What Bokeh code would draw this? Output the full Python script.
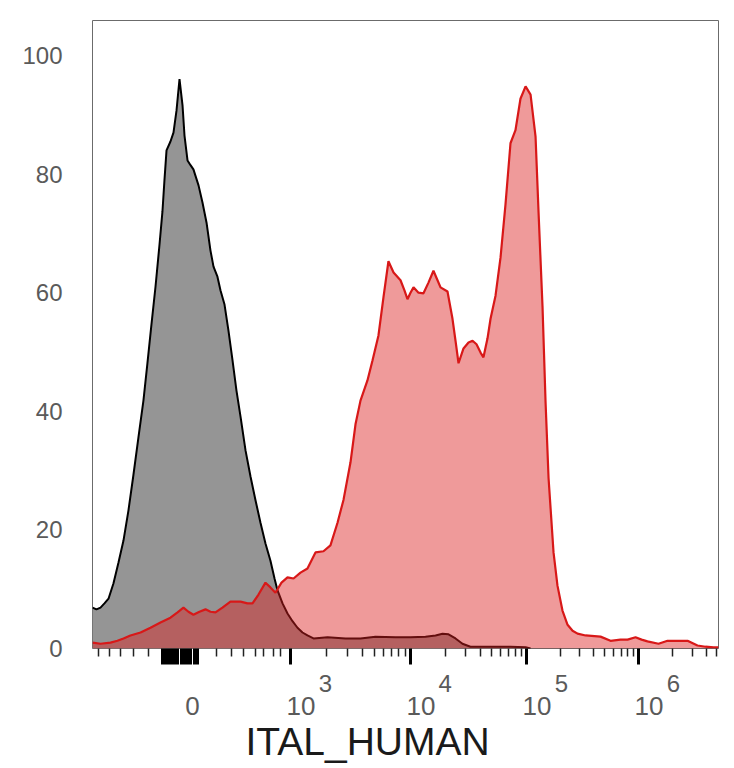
import numpy as np
from bokeh.plotting import figure
from bokeh.models import FixedTicker, LinearAxis, Title, CustomJSTickFormatter, Range1d
from bokeh.embed import file_html
from bokeh.resources import INLINE

# ---------------- data (x in biexponential display units: 0 = zero, ~1 unit per decade) ----------------
grey_x = [-0.767, -0.733, -0.698, -0.664, -0.629, -0.586, -0.543, -0.500, -0.457, -0.414,
          -0.371, -0.328, -0.293, -0.259, -0.224, -0.190, -0.164, -0.147, -0.129, -0.095,
          -0.069, -0.043, -0.017, 0.009, 0.026, 0.052, 0.078, 0.103, 0.147, 0.181,
          0.216, 0.250, 0.276, 0.310, 0.336, 0.371, 0.405, 0.440, 0.474, 0.509,
          0.552, 0.595, 0.638, 0.681, 0.724, 0.767, 0.802, 0.828, 0.871, 0.914,
          0.957, 1.000, 1.043, 1.086, 1.138, 1.259, 1.414, 1.543, 1.672, 1.845,
          1.974, 2.103, 2.190, 2.250, 2.302, 2.362, 2.422, 2.491, 2.664, 2.836,
          2.966, 3.009]
grey_y = [6.9, 6.6, 6.9, 7.6, 8.4, 11.0, 14.5, 18.2, 23.3, 29.3,
          35.6, 41.8, 48.2, 54.6, 61.0, 68.0, 73.7, 78.9, 84.0, 85.5,
          87.0, 90.7, 96.0, 91.6, 86.5, 82.3, 81.5, 80.8, 78.1, 75.2,
          71.8, 67.1, 64.4, 62.7, 60.4, 58.0, 53.6, 48.6, 43.5, 39.1,
          33.4, 29.0, 25.0, 21.2, 17.7, 14.8, 11.8, 9.8, 7.6, 5.9,
          4.6, 3.5, 2.7, 2.2, 1.7, 1.9, 1.7, 1.7, 2.0, 1.9,
          1.9, 2.0, 2.2, 2.5, 2.4, 1.7, 0.8, 0.3, 0.3, 0.3,
          0.2, 0.0]

red_x = [-0.767, -0.698, -0.612, -0.552, -0.500, -0.440, -0.353, -0.267, -0.181, -0.095,
         -0.034, 0.017, 0.060, 0.103, 0.155, 0.207, 0.250, 0.293, 0.353, 0.422,
         0.509, 0.569, 0.612, 0.664, 0.724, 0.767, 0.810, 0.862, 0.914, 0.966,
         1.026, 1.086, 1.155, 1.224, 1.284, 1.345, 1.397, 1.457, 1.500, 1.543,
         1.603, 1.647, 1.698, 1.741, 1.784, 1.828, 1.888, 1.922, 1.948, 1.974,
         2.000, 2.043, 2.086, 2.129, 2.172, 2.207, 2.233, 2.293, 2.336, 2.362,
         2.388, 2.431, 2.474, 2.509, 2.543, 2.578, 2.603, 2.638, 2.664, 2.707,
         2.750, 2.793, 2.836, 2.879, 2.922, 2.966, 3.009, 3.052, 3.078, 3.112,
         3.138, 3.164, 3.207, 3.241, 3.284, 3.328, 3.371, 3.414, 3.483, 3.612,
         3.698, 3.784, 3.845, 3.914, 3.966, 4.017, 4.112, 4.190, 4.302, 4.362,
         4.448, 4.517, 4.586, 4.629]
red_y = [1.0, 0.8, 1.0, 1.3, 1.7, 2.2, 2.7, 3.5, 4.4, 5.2,
         6.1, 6.9, 6.2, 5.7, 6.2, 6.6, 6.2, 6.1, 6.9, 7.9,
         7.9, 7.6, 7.6, 9.1, 11.1, 10.3, 9.4, 11.1, 12.0, 11.8,
         12.8, 13.5, 16.2, 16.4, 17.4, 21.2, 25.1, 31.4, 37.8, 41.8,
         45.2, 48.6, 52.8, 59.2, 65.3, 63.4, 62.1, 60.4, 58.9, 60.0,
         60.9, 60.0, 59.9, 61.7, 63.7, 62.1, 60.9, 60.2, 55.6, 51.9,
         48.1, 50.6, 51.6, 51.9, 51.3, 49.9, 49.1, 52.3, 55.6, 59.5,
         65.9, 74.9, 85.2, 87.4, 92.7, 94.8, 93.4, 86.3, 73.5, 57.7,
         41.7, 28.8, 16.2, 10.6, 6.4, 4.0, 3.0, 2.5, 2.2, 2.0,
         1.3, 1.5, 1.5, 1.9, 1.5, 1.2, 0.8, 1.3, 1.3, 1.3,
         0.5, 0.3, 0.2, 0.2]

# axis: positions of 0 and of the decades on the display scale
zero_pos = 0.0
decade_exponents = ["3", "4", "5", "6"]
decade_positions = [0.940, 1.974, 2.974, 3.940]
near_zero_long = [-0.164, -0.138, -0.112, -0.086, -0.060, -0.034, 0.030, 0.056,
                  0.082, 0.108, 0.134]
near_zero_short = [-0.716, -0.621, -0.526, -0.414, -0.284,
                   0.302, 0.431, 0.534, 0.638, 0.707, 0.793, 0.853]
y_ticks = [0, 20, 40, 60, 80, 100]

X_MIN, X_MAX = -0.767, 4.629
Y_MIN, Y_MAX = 0, 105.9

# ---------------- ticks ----------------
major_ticks = sorted(near_zero_long + [zero_pos] + decade_positions)
minor_ticks = list(near_zero_short)
widths = np.diff(decade_positions).tolist()
widths.append(widths[-1])
for pos, w in zip(decade_positions, widths):
    for m in range(2, 10):
        t = pos + w * np.log10(m)
        if t < X_MAX:
            minor_ticks.append(round(float(t), 4))

BASE_SHIFT = 0.09   # label "10" / "0" sits right of its tick
SUP_SHIFT = 0.30    # exponent further right
base_pos = [round(zero_pos + 0.095, 4)] + [round(p + BASE_SHIFT, 4) for p in decade_positions]
base_lab = ["0"] + ["10"] * len(decade_positions)
sup_pos = [round(p + SUP_SHIFT, 4) for p in decade_positions]
sup_lab = decade_exponents

FONT = "Liberation Sans"
LABEL_COLOR = "#5a5a5a"

p = figure(width=734, height=768, output_backend="svg", toolbar_location=None,
           x_range=Range1d(X_MIN, X_MAX), y_range=Range1d(Y_MIN, Y_MAX),
           min_border_left=92, min_border_right=16, min_border_top=20, min_border_bottom=120)
p.grid.visible = False
p.outline_line_color = "#6b6b6b"
p.outline_line_width = 1
p.background_fill_color = "white"
p.border_fill_color = "white"

# histograms
p.varea(x=grey_x, y1=0, y2=grey_y, fill_color="#959595", fill_alpha=1.0)
p.line(grey_x, grey_y, line_color="black", line_width=2)
p.varea(x=red_x, y1=0, y2=red_y, fill_color="#dc1e1e", fill_alpha=0.45)
p.line(red_x, red_y, line_color="#d81818", line_width=2.2)

# y axis
ya = p.yaxis[0]
ya.ticker = FixedTicker(ticks=y_ticks, minor_ticks=[])
ya.axis_line_color = None
ya.major_tick_line_color = None
ya.minor_tick_line_color = None
ya.major_tick_out = 0
ya.major_tick_in = 0
ya.minor_tick_out = 0
ya.minor_tick_in = 0
ya.major_label_standoff = 30
ya.major_label_text_font = FONT
ya.major_label_text_font_size = "24px"
ya.major_label_text_color = LABEL_COLOR

# x axis A: tick marks only
xa = p.xaxis[0]
xa.ticker = FixedTicker(ticks=major_ticks, minor_ticks=minor_ticks)
xa.formatter = CustomJSTickFormatter(code="return ''")
xa.axis_line_color = None
xa.major_tick_line_color = "black"
xa.major_tick_line_width = 3
xa.major_tick_out = 16
xa.major_tick_in = 0
xa.minor_tick_line_color = "#222222"
xa.minor_tick_line_width = 1.5
xa.minor_tick_out = 8
xa.minor_tick_in = 0
xa.major_label_standoff = 0
xa.major_label_text_font_size = "1px"


def label_axis(positions, labels, size, standoff):
    ax = LinearAxis(ticker=FixedTicker(ticks=positions, minor_ticks=[]),
                    formatter=CustomJSTickFormatter(args=dict(labels=labels),
                                                    code="return labels[index] ?? ''"))
    ax.axis_line_color = None
    ax.major_tick_line_color = None
    ax.minor_tick_line_color = None
    ax.major_tick_out = 0
    ax.major_tick_in = 0
    ax.minor_tick_out = 0
    ax.minor_tick_in = 0
    ax.major_label_standoff = standoff
    ax.major_label_text_font = FONT
    ax.major_label_text_font_size = size
    ax.major_label_text_color = LABEL_COLOR
    return ax


# x axis B: exponents, x axis C: bases
p.add_layout(label_axis(sup_pos, sup_lab, "24px", 10), "below")
p.add_layout(label_axis(base_pos, base_lab, "26px", 2), "below")

# x axis title
p.add_layout(Title(text="ITAL_HUMAN", align="left", offset=153, standoff=0,
                   text_font=FONT, text_font_size="39px", text_font_style="normal",
                   text_color="#1a1a1a"), "below")

open("out.html", "w").write(file_html(p, INLINE))
